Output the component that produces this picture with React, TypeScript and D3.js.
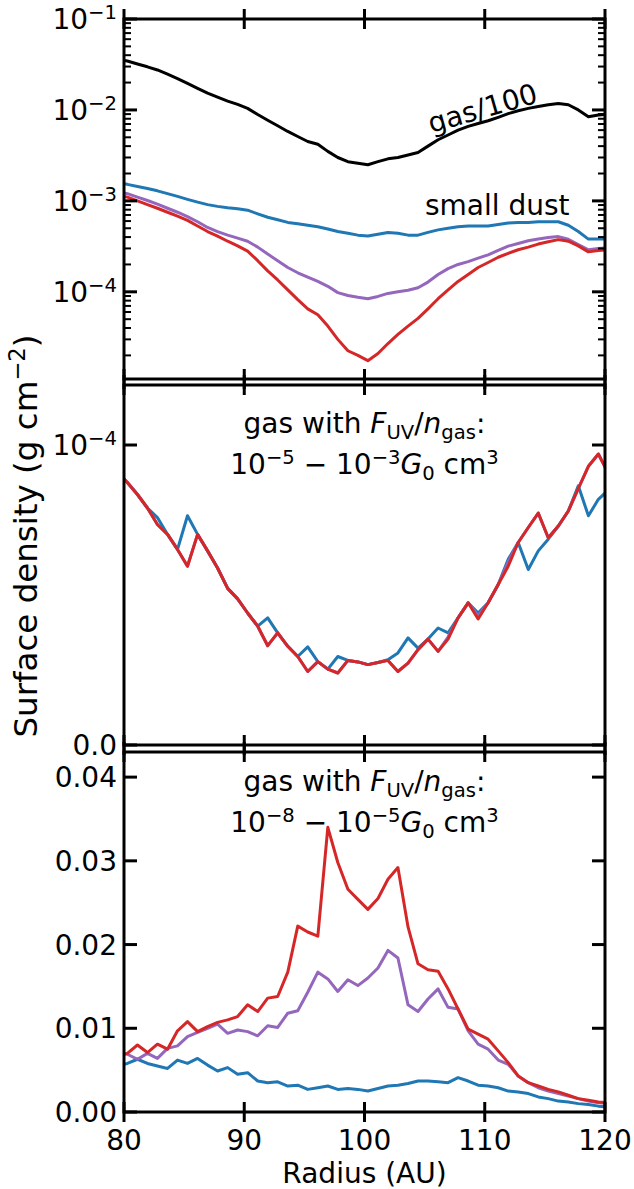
import React, { useRef, useEffect } from "react"
import * as d3 from "d3"

// radial sampling of the profiles (AU)
const radius = [
  79.45, 80.28, 81.12, 81.95, 82.78, 83.62, 84.45, 85.28, 86.12, 86.95,
  87.78, 88.62, 89.45, 90.28, 91.12, 91.95, 92.78, 93.62, 94.45, 95.28,
  96.12, 96.95, 97.78, 98.62, 99.45, 100.28, 101.12, 101.95, 102.78, 103.62,
  104.45, 105.28, 106.12, 106.95, 107.78, 108.62, 109.45, 110.28, 111.12, 111.95,
  112.78, 113.62, 114.45, 115.28, 116.12, 116.95, 117.78, 118.62, 119.45, 120.28,
]

// top panel (log)
const gasTop = [
  0.036, 0.0345, 0.032, 0.0298, 0.0275, 0.0247, 0.0221, 0.0196, 0.0173, 0.0153,
  0.0138, 0.0125, 0.0115, 0.0104, 0.0089, 0.0077, 0.0067, 0.0058, 0.0051, 0.0045,
  0.0042, 0.0035, 0.003, 0.0027, 0.0026, 0.0025, 0.0027, 0.0029, 0.003, 0.0032,
  0.0034, 0.004, 0.0047, 0.0053, 0.006, 0.0066, 0.0071, 0.0076, 0.0083, 0.0091,
  0.0098, 0.0104, 0.0109, 0.0114, 0.0118, 0.0114, 0.01, 0.0084, 0.0088, 0.009,
]
const blueTop = [
  0.00158, 0.00152, 0.00144, 0.00137, 0.00129, 0.0012, 0.00112, 0.00104, 0.00097, 0.00091,
  0.00087, 0.00084, 0.00082, 0.00079, 0.00072, 0.00066, 0.00062, 0.00058, 0.00056, 0.00054,
  0.00052, 0.00049, 0.00046, 0.00044, 0.00042, 0.00041, 0.00043, 0.00045, 0.00044, 0.00042,
  0.00042, 0.00045, 0.00048, 0.0005, 0.00052, 0.00053, 0.00053, 0.00053, 0.00055, 0.00057,
  0.00058, 0.00058, 0.00059, 0.00059, 0.00059, 0.00054, 0.00046, 0.00038, 0.00038, 0.00038,
]
const purpleTop = [
  0.00126, 0.0012, 0.0011, 0.00101, 0.00092, 0.00083, 0.00075, 0.00067, 0.00059, 0.00051,
  0.00046, 0.00042, 0.00039, 0.00036, 0.00031, 0.00026, 0.00022, 0.000185, 0.000162, 0.000145,
  0.00013, 0.000115, 0.000098, 0.000091, 0.000087, 0.000084, 0.000089, 0.000096, 0.0001, 0.000104,
  0.000111, 0.000128, 0.000155, 0.00018, 0.0002, 0.000215, 0.000235, 0.000255, 0.000285, 0.000318,
  0.00034, 0.000365, 0.00038, 0.000395, 0.000405, 0.000378, 0.00033, 0.00029, 0.0003, 0.000305,
]
const redTop = [
  0.00116, 0.0011, 0.001, 0.00091, 0.00083, 0.00075, 0.00068, 0.00061, 0.00053, 0.00046,
  0.00041, 0.00036, 0.00032, 0.00028, 0.00022, 0.00017, 0.000135, 0.000105, 0.000082, 0.000065,
  0.000056, 0.000042, 0.00003, 0.0000225, 0.00002, 0.0000175, 0.000021, 0.000027, 0.000034, 0.000042,
  0.000051, 0.000065, 0.000084, 0.000105, 0.00013, 0.000155, 0.000185, 0.00021, 0.00024, 0.000265,
  0.00029, 0.00031, 0.000335, 0.000355, 0.000375, 0.00036, 0.00032, 0.000275, 0.000285, 0.00029,
]

// middle panel: F_UV/n_gas 1e-5 - 1e-3
const blueMid = [
  0.91e-4, 0.875e-4, 0.835e-4, 0.79e-4, 0.758e-4, 0.702e-4, 0.652e-4, 0.764e-4, 0.702e-4, 0.647e-4,
  0.59e-4, 0.522e-4, 0.487e-4, 0.44e-4, 0.396e-4, 0.424e-4, 0.374e-4, 0.329e-4, 0.295e-4, 0.327e-4,
  0.278e-4, 0.253e-4, 0.295e-4, 0.282e-4, 0.277e-4, 0.268e-4, 0.275e-4, 0.284e-4, 0.307e-4, 0.357e-4,
  0.323e-4, 0.353e-4, 0.39e-4, 0.374e-4, 0.424e-4, 0.474e-4, 0.44e-4, 0.474e-4, 0.535e-4, 0.619e-4,
  0.675e-4, 0.585e-4, 0.647e-4, 0.686e-4, 0.73e-4, 0.78e-4, 0.864e-4, 0.764e-4, 0.819e-4, 0.85e-4,
]
const purpleMid = [
  0.91e-4, 0.875e-4, 0.835e-4, 0.79e-4, 0.735e-4, 0.702e-4, 0.652e-4, 0.596e-4, 0.702e-4, 0.647e-4,
  0.59e-4, 0.522e-4, 0.487e-4, 0.44e-4, 0.396e-4, 0.331e-4, 0.374e-4, 0.329e-4, 0.295e-4, 0.245e-4,
  0.278e-4, 0.253e-4, 0.24e-4, 0.282e-4, 0.277e-4, 0.268e-4, 0.275e-4, 0.282e-4, 0.245e-4, 0.273e-4,
  0.318e-4, 0.353e-4, 0.312e-4, 0.36e-4, 0.424e-4, 0.474e-4, 0.43e-4, 0.474e-4, 0.535e-4, 0.61e-4,
  0.675e-4, 0.725e-4, 0.773e-4, 0.691e-4, 0.73e-4, 0.78e-4, 0.855e-4, 0.929e-4, 0.97e-4, 0.905e-4,
]
const redMid = [
  0.91e-4, 0.875e-4, 0.835e-4, 0.79e-4, 0.735e-4, 0.702e-4, 0.652e-4, 0.596e-4, 0.702e-4, 0.647e-4,
  0.59e-4, 0.522e-4, 0.487e-4, 0.44e-4, 0.396e-4, 0.331e-4, 0.374e-4, 0.329e-4, 0.295e-4, 0.245e-4,
  0.278e-4, 0.253e-4, 0.24e-4, 0.282e-4, 0.277e-4, 0.268e-4, 0.275e-4, 0.282e-4, 0.245e-4, 0.273e-4,
  0.318e-4, 0.353e-4, 0.312e-4, 0.353e-4, 0.424e-4, 0.474e-4, 0.42e-4, 0.474e-4, 0.535e-4, 0.596e-4,
  0.675e-4, 0.725e-4, 0.773e-4, 0.691e-4, 0.73e-4, 0.78e-4, 0.855e-4, 0.929e-4, 0.97e-4, 0.905e-4,
]

// bottom panel: F_UV/n_gas 1e-8 - 1e-5
const blueLow = [
  0.0055, 0.0058, 0.0063, 0.0058, 0.0055, 0.0052, 0.0062, 0.0058, 0.0064, 0.0056,
  0.0049, 0.0053, 0.0045, 0.0047, 0.0037, 0.0035, 0.0036, 0.0031, 0.0032, 0.0027,
  0.0029, 0.0031, 0.0027, 0.0028, 0.0027, 0.0025, 0.0028, 0.0031, 0.0032, 0.0034,
  0.0037, 0.0037, 0.0036, 0.0035, 0.0041, 0.0037, 0.0032, 0.0031, 0.0029, 0.0025,
  0.0024, 0.0022, 0.0018, 0.0016, 0.0013, 0.0012, 0.001, 0.0009, 0.0007, 0.0006,
]
const purpleLow = [
  0.007, 0.0069, 0.0063, 0.007, 0.0064, 0.0076, 0.0079, 0.009, 0.0095, 0.01,
  0.0105, 0.0094, 0.0098, 0.0096, 0.0091, 0.0103, 0.0101, 0.0118, 0.0121, 0.0143,
  0.0167, 0.0159, 0.0144, 0.0158, 0.0151, 0.016, 0.0172, 0.0193, 0.0184, 0.0128,
  0.012, 0.0135, 0.0147, 0.0125, 0.0123, 0.0097, 0.0081, 0.0075, 0.0062, 0.0057,
  0.0043, 0.0035, 0.0029, 0.0025, 0.0022, 0.0019, 0.0016, 0.0013, 0.0011, 0.001,
]
const redLow = [
  0.0068, 0.007, 0.008, 0.0071, 0.0081, 0.0075, 0.0097, 0.0108, 0.0096, 0.0102,
  0.0107, 0.011, 0.0114, 0.0128, 0.012, 0.0136, 0.0138, 0.0167, 0.0222, 0.0215,
  0.021, 0.034, 0.0298, 0.0266, 0.0254, 0.0242, 0.0255, 0.0278, 0.0292, 0.0221,
  0.0177, 0.017, 0.0168, 0.0147, 0.0123, 0.0099, 0.0093, 0.0087, 0.0073, 0.0059,
  0.0043, 0.0035, 0.0031, 0.0027, 0.0024, 0.002, 0.0016, 0.0014, 0.0012, 0.0011,
]

const xTicks = [80, 90, 100, 110, 120]
const logTicks = [1e-4, 1e-3, 1e-2, 1e-1]
const logTickLabels = ["\u22124", "\u22123", "\u22122", "\u22121"]
const midTicks = [0, 1e-4]
const lowTicks = [0, 0.01, 0.02, 0.03, 0.04]
const lowTickLabels = ["0.00", "0.01", "0.02", "0.03", "0.04"]

const black = "#000000"
const blue = "#1f77b4"
const purple = "#9467bd"
const red = "#d62728"

const width = 634
const height = 1189
const fontFamily = "DejaVu Sans"
const fs = 28

// mathtext-like runs: [text, shift, italic]
const mathText = (sel, parts, size) => {
  let cur = 0
  parts.forEach(([t, shift, italic]) => {
    const target = shift === "sup" ? -0.36 * size : shift === "sub" ? 0.2 * size : 0
    sel
      .append("tspan")
      .attr("dy", target - cur)
      .attr("font-size", shift ? size * 0.7 : size)
      .attr("font-style", italic ? "italic" : "normal")
      .text(t)
    cur = target
  })
}

const App = () => {
  const ref = useRef(null)

  useEffect(() => {
    if (!ref.current) return
    const svg = d3.select(ref.current)
    svg.selectAll("*").remove()

    const x = d3.scaleLinear().domain([80, 120]).range([124, 605])
    const left = 124
    const right = 605

    const panels = [
      {
        top: 19,
        bottom: 379,
        y: d3.scaleLog().domain([1.1e-5, 0.1]).range([379, 19]),
        series: [[gasTop, black], [blueTop, blue], [purpleTop, purple], [redTop, red]],
      },
      {
        top: 385,
        bottom: 745,
        y: d3.scaleLinear().domain([0, 1.2e-4]).range([745, 385]),
        series: [[blueMid, blue], [purpleMid, purple], [redMid, red]],
      },
      {
        top: 752,
        bottom: 1112,
        y: d3.scaleLinear().domain([0, 0.043]).range([1112, 752]),
        series: [[blueLow, blue], [purpleLow, purple], [redLow, red]],
      },
    ]

    const defs = svg.append("defs")

    panels.forEach((p, i) => {
      defs
        .append("clipPath")
        .attr("id", `clip${i}`)
        .append("rect")
        .attr("x", left)
        .attr("y", p.top)
        .attr("width", right - left)
        .attr("height", p.bottom - p.top)

      const line = d3
        .line()
        .x((d, j) => x(radius[j]))
        .y(d => p.y(d))

      const g = svg.append("g").attr("clip-path", `url(#clip${i})`)
      p.series.forEach(([vals, color]) => {
        g.append("path")
          .attr("d", line(vals))
          .attr("fill", "none")
          .attr("stroke", color)
          .attr("stroke-width", 3)
          .attr("stroke-linejoin", "round")
      })

      // frame
      svg
        .append("rect")
        .attr("x", left)
        .attr("y", p.top)
        .attr("width", right - left)
        .attr("height", p.bottom - p.top)
        .attr("fill", "none")
        .attr("stroke", "#000")
        .attr("stroke-width", 3)

      // x ticks, in-out on both edges
      const tk = svg.append("g").attr("stroke", "#000").attr("stroke-width", 3)
      xTicks.forEach(t => {
        ;[p.top, p.bottom].forEach(yy => {
          tk.append("line").attr("x1", x(t)).attr("x2", x(t)).attr("y1", yy - 10).attr("y2", yy + 10)
        })
      })

      const yTick = (v, len, w) => {
        const yy = p.y(v)
        tk.append("line").attr("x1", left).attr("x2", left + len).attr("y1", yy).attr("y2", yy).attr("stroke-width", w)
        tk.append("line").attr("x1", right).attr("x2", right - len).attr("y1", yy).attr("y2", yy).attr("stroke-width", w)
      }

      const label = yy => svg
        .append("text")
        .attr("x", 117)
        .attr("y", yy + 10)
        .attr("text-anchor", "end")
        .attr("font-family", fontFamily)
        .attr("font-size", fs)

      if (i === 0) {
        logTicks.forEach((v, j) => {
          yTick(v, 13, 3)
          mathText(label(p.y(v)), [["10"], [logTickLabels[j], "sup"]], fs)
        })
        const [lo, hi] = p.y.domain()
        ;[-5, -4, -3, -2].forEach(e => {
          d3.range(2, 10).forEach(m => {
            const v = m * Math.pow(10, e)
            if (v > lo && v < hi) yTick(v, 7, 2)
          })
        })
      } else if (i === 1) {
        midTicks.forEach(v => yTick(v, 13, 3))
        label(p.y(0)).text("0.0")
        mathText(label(p.y(1e-4)), [["10"], ["\u22124", "sup"]], fs)
      } else {
        lowTicks.forEach((v, j) => {
          yTick(v, 13, 3)
          label(p.y(v)).text(lowTickLabels[j])
        })
      }
    })

    // x tick labels on bottom panel
    xTicks.forEach(t => {
      svg
        .append("text")
        .attr("x", x(t))
        .attr("y", 1150)
        .attr("text-anchor", "middle")
        .attr("font-family", fontFamily)
        .attr("font-size", fs)
        .text(t)
    })

    svg
      .append("text")
      .attr("x", (left + right) / 2)
      .attr("y", 1183)
      .attr("text-anchor", "middle")
      .attr("font-family", fontFamily)
      .attr("font-size", fs)
      .text("Radius (AU)")

    const yl = svg
      .append("text")
      .attr("transform", "translate(37,536) rotate(-90)")
      .attr("text-anchor", "middle")
      .attr("font-family", fontFamily)
      .attr("font-size", 32.5)
    mathText(yl, [["Surface density (g cm"], ["\u22122", "sup"], [")"]], 32.5)

    // annotations
    svg
      .append("text")
      .attr("transform", "translate(483,110) rotate(-16)")
      .attr("y", 8)
      .attr("text-anchor", "middle")
      .attr("font-family", fontFamily)
      .attr("font-size", fs)
      .text("gas/100")

    svg
      .append("text")
      .attr("x", 425)
      .attr("y", 215)
      .attr("font-family", fontFamily)
      .attr("font-size", fs)
      .text("small dust")

    const caption = (y1, y2, a, b) => {
      const cx = (left + right) / 2
      const t1 = svg
        .append("text")
        .attr("x", cx)
        .attr("y", y1)
        .attr("text-anchor", "middle")
        .attr("font-family", fontFamily)
        .attr("font-size", fs)
      mathText(t1, [["gas with "], ["F", null, true], ["UV", "sub"], ["/"], ["n", null, true], ["gas", "sub"], [":"]], fs)
      const t2 = svg
        .append("text")
        .attr("x", cx)
        .attr("y", y2)
        .attr("text-anchor", "middle")
        .attr("font-family", fontFamily)
        .attr("font-size", fs)
      mathText(
        t2,
        [["10"], [a, "sup"], [" \u2212 10"], [b, "sup"], ["G", null, true], ["0", "sub"], [" cm"], ["3", "sup"]],
        fs
      )
    }
    caption(433, 474, "\u22125", "\u22123")
    caption(791, 832, "\u22128", "\u22125")
  }, [])

  return (
    <svg
      ref={ref}
      width={width}
      height={height}
      style={{ position: "absolute", left: 0, top: 0, background: "#fff" }}
    />
  )
}

export default App
